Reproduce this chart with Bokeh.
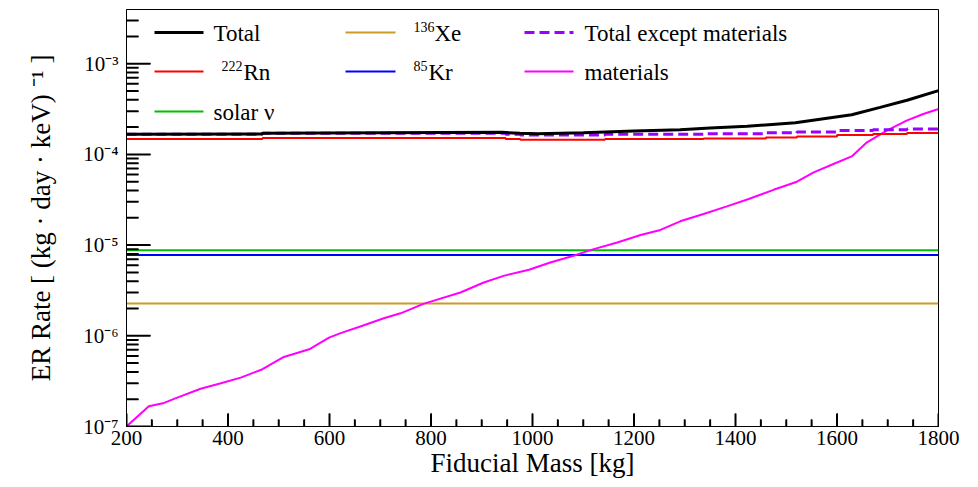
import math
from bokeh.plotting import figure
from bokeh.models import FixedTicker, CustomJSTickFormatter
from bokeh.core.properties import value
from bokeh.embed import file_html
from bokeh.resources import INLINE

# ---------------- data ----------------
materials_mass = [200, 244, 274, 300, 346, 386, 425, 468, 510, 560, 599, 622, 665, 707, 740, 785,
                  858, 904, 943, 993, 1035, 1081, 1114, 1167, 1213, 1252, 1291, 1337, 1383, 1426,
                  1475, 1521, 1554, 1593, 1629, 1659, 1698, 1737, 1770, 1800]
materials_rate = [1.0e-7, 1.67e-7, 1.82e-7, 2.08e-7, 2.61e-7, 3.0e-7, 3.46e-7, 4.28e-7, 5.85e-7, 7.1e-7,
                  9.55e-7, 1.07e-6, 1.29e-6, 1.56e-6, 1.77e-6, 2.25e-6, 3.0e-6, 3.87e-6, 4.58e-6, 5.34e-6,
                  6.43e-6, 7.62e-6, 8.81e-6, 1.07e-5, 1.29e-5, 1.47e-5, 1.83e-5, 2.2e-5, 2.67e-5, 3.22e-5,
                  4.07e-5, 5.0e-5, 6.33e-5, 7.83e-5, 9.5e-5, 1.36e-4, 1.83e-4, 2.36e-4, 2.79e-4, 3.17e-4]

rn_mass = [200, 468, 947, 976, 1143, 1337, 1460, 1521, 1600, 1671, 1738, 1800]
rn_rate = [1.48e-4, 1.52e-4, 1.48e-4, 1.45e-4, 1.48e-4, 1.50e-4, 1.54e-4, 1.58e-4, 1.64e-4, 1.68e-4, 1.72e-4, 1.72e-4]

except_mass = [200, 468, 947, 976, 1143, 1337, 1460, 1521, 1600, 1671, 1738, 1800]
except_rate = [1.67e-4, 1.71e-4, 1.67e-4, 1.64e-4, 1.67e-4, 1.69e-4, 1.73e-4, 1.77e-4, 1.83e-4, 1.87e-4, 1.91e-4, 1.91e-4]

total_mass = [200, 465, 470, 940, 975, 1010, 1100, 1200, 1291, 1350, 1423, 1518, 1629, 1685, 1738, 1800]
total_rate = [1.67e-4, 1.68e-4, 1.71e-4, 1.75e-4, 1.71e-4, 1.69e-4, 1.73e-4, 1.81e-4, 1.87e-4, 1.95e-4,
              2.04e-4, 2.24e-4, 2.74e-4, 3.30e-4, 3.95e-4, 5.05e-4]

flat_mass = [200, 1800]
solar_nu_rate = 8.8e-6
kr85_rate = 7.8e-6
xe136_rate = 2.27e-6

x_major = [200, 400, 600, 800, 1000, 1200, 1400, 1600, 1800]
y_major = [1e-7, 1e-6, 1e-5, 1e-4, 1e-3]

# ---------------- figure ----------------
X0, X1 = 200, 1800
Y0, Y1 = 1e-7, 3.96e-3
W, H = 978, 487
FL, FR, FT, FB = 126, 938, 9, 426
LY0, LY1 = math.log10(Y0), math.log10(Y1)


def dx(px):
    """pixel column -> data x (layout helper for guides/legend)"""
    return X0 + (px - FL) / (FR - FL) * (X1 - X0)


def dy(py):
    """pixel row -> data y (layout helper for guides/legend)"""
    return 10 ** (LY0 + (FB - py) / (FB - FT) * (LY1 - LY0))


def xlen(npx):
    return npx / (FR - FL) * (X1 - X0)


def yfac(npx):
    return 10 ** (npx / (FB - FT) * (LY1 - LY0))


p = figure(width=W, height=H, x_range=(X0, X1), y_range=(Y0, Y1), y_axis_type="log",
           output_backend="svg", toolbar_location=None,
           min_border_left=FL, min_border_right=W - FR, min_border_top=FT, min_border_bottom=H - FB)
p.grid.visible = False
p.outline_line_color = "black"
p.outline_line_width = 1
p.background_fill_color = "white"
p.border_fill_color = "white"

x_minor = [m for m in range(200, 1801, 50) if m not in x_major]
p.xaxis.ticker = FixedTicker(ticks=x_major, minor_ticks=x_minor)
y_minor = []
for e in range(-7, -2):
    for k in range(2, 10):
        v = k * 10.0 ** e
        if v < Y1:
            y_minor.append(v)
p.yaxis.ticker = FixedTicker(ticks=y_major, minor_ticks=y_minor)
p.yaxis.formatter = CustomJSTickFormatter(code="""
const sup = {"-": "\u207b", "0": "\u2070", "1": "\u00b9", "2": "\u00b2", "3": "\u00b3", "4": "\u2074",
             "5": "\u2075", "6": "\u2076", "7": "\u2077", "8": "\u2078", "9": "\u2079"};
const e = Math.round(Math.log10(tick));
return "10" + String(e).split("").map(c => sup[c]).join("");
""")

for ax in (p.xaxis, p.yaxis):
    ax.axis_line_color = "black"
    ax.major_tick_line_color = "black"
    ax.minor_tick_line_color = "black"
    ax.major_tick_out = 0
    ax.minor_tick_out = 0
    ax.major_label_text_font = "Liberation Serif"
    ax.major_label_text_font_size = "21px"
    ax.major_label_text_color = "black"
    ax.axis_label_text_font = "Liberation Serif"
    ax.axis_label_text_font_size = "27px"
    ax.axis_label_text_font_style = "normal"
    ax.axis_label_text_color = "black"
p.xaxis.major_tick_in = 13
p.xaxis.minor_tick_in = 7
p.yaxis.major_tick_in = 24
p.yaxis.minor_tick_in = 12

p.xaxis.major_label_standoff = 4
p.yaxis.major_label_standoff = 8
p.xaxis.axis_label_standoff = 0
p.yaxis.axis_label_standoff = 24
p.xaxis.axis_label = "Fiducial Mass [kg]"
p.yaxis.axis_label = "ER Rate [ (kg \u00b7 day \u00b7 keV) \u207b\u00b9 ]"

# ---------------- curves ----------------
XE_C, GREEN_C, BLUE_C = "#cc9a26", "#00c000", "#0000ff"
RED_C, MAG_C, VIO_C = "#ff0000", "#ff00ff", "#9900ff"

p.line(flat_mass, [xe136_rate] * 2, line_color=XE_C, line_width=2)
p.line(flat_mass, [solar_nu_rate] * 2, line_color=GREEN_C, line_width=2)
p.line(flat_mass, [kr85_rate] * 2, line_color=BLUE_C, line_width=2)
p.line(materials_mass, materials_rate, line_color=MAG_C, line_width=2)
p.step(rn_mass, rn_rate, mode="after", line_color=RED_C, line_width=2)
p.step(except_mass, except_rate, mode="after", line_color=VIO_C, line_width=3, line_dash="10 5")
p.line(total_mass, total_rate, line_color="black", line_width=3)

# inward tick marks (ROOT style), one short line per tick, drawn on top
for xt in x_major:
    p.line([xt, xt], [Y0, Y0 * yfac(13)], line_color="black", line_width=2)
for xt in x_minor:
    p.line([xt, xt], [Y0, Y0 * yfac(7)], line_color="black", line_width=2)
for yt in y_major:
    p.line([X0, X0 + xlen(24)], [yt, yt], line_color="black", line_width=2)
for yt in y_minor:
    p.line([X0, X0 + xlen(12)], [yt, yt], line_color="black", line_width=2)

# ---------------- legend ----------------
legend_items = [
    # line_x0, line_x1, row_y, color, width, dash, sup, sup_x, text, text_x
    (154, 203, 32, "black", 3, "solid", "", 0, "Total", 213),
    (154, 203, 71, RED_C, 2, "solid", "222", 221, "Rn", 243),
    (154, 203, 111, GREEN_C, 2, "solid", "", 0, "solar \u03bd", 213),
    (345, 395, 32, XE_C, 2, "solid", "136", 413, "Xe", 434),
    (345, 395, 71, BLUE_C, 2, "solid", "85", 413, "Kr", 428),
    (524, 573, 32, VIO_C, 3, "10 5", "", 0, "Total except materials", 584),
    (524, 573, 71, MAG_C, 2, "solid", "", 0, "materials", 584),
]
for lx0, lx1, ry, col, lw, dash, sup, sx, txt, tx in legend_items:
    p.line([dx(lx0), dx(lx1)], [dy(ry), dy(ry)], line_color=col, line_width=lw, line_dash=dash)
    p.text(x=[dx(tx)], y=[dy(ry + 1)], text=[txt], text_font=value("Liberation Serif"),
           text_font_size="23px", text_baseline="middle", text_align="left", text_color="black")
    if sup:
        p.text(x=[dx(sx)], y=[dy(ry - 6)], text=[sup], text_font=value("Liberation Serif"),
               text_font_size="14px", text_baseline="middle", text_align="left", text_color="black")

open("out.html", "w").write(file_html(p, INLINE))
